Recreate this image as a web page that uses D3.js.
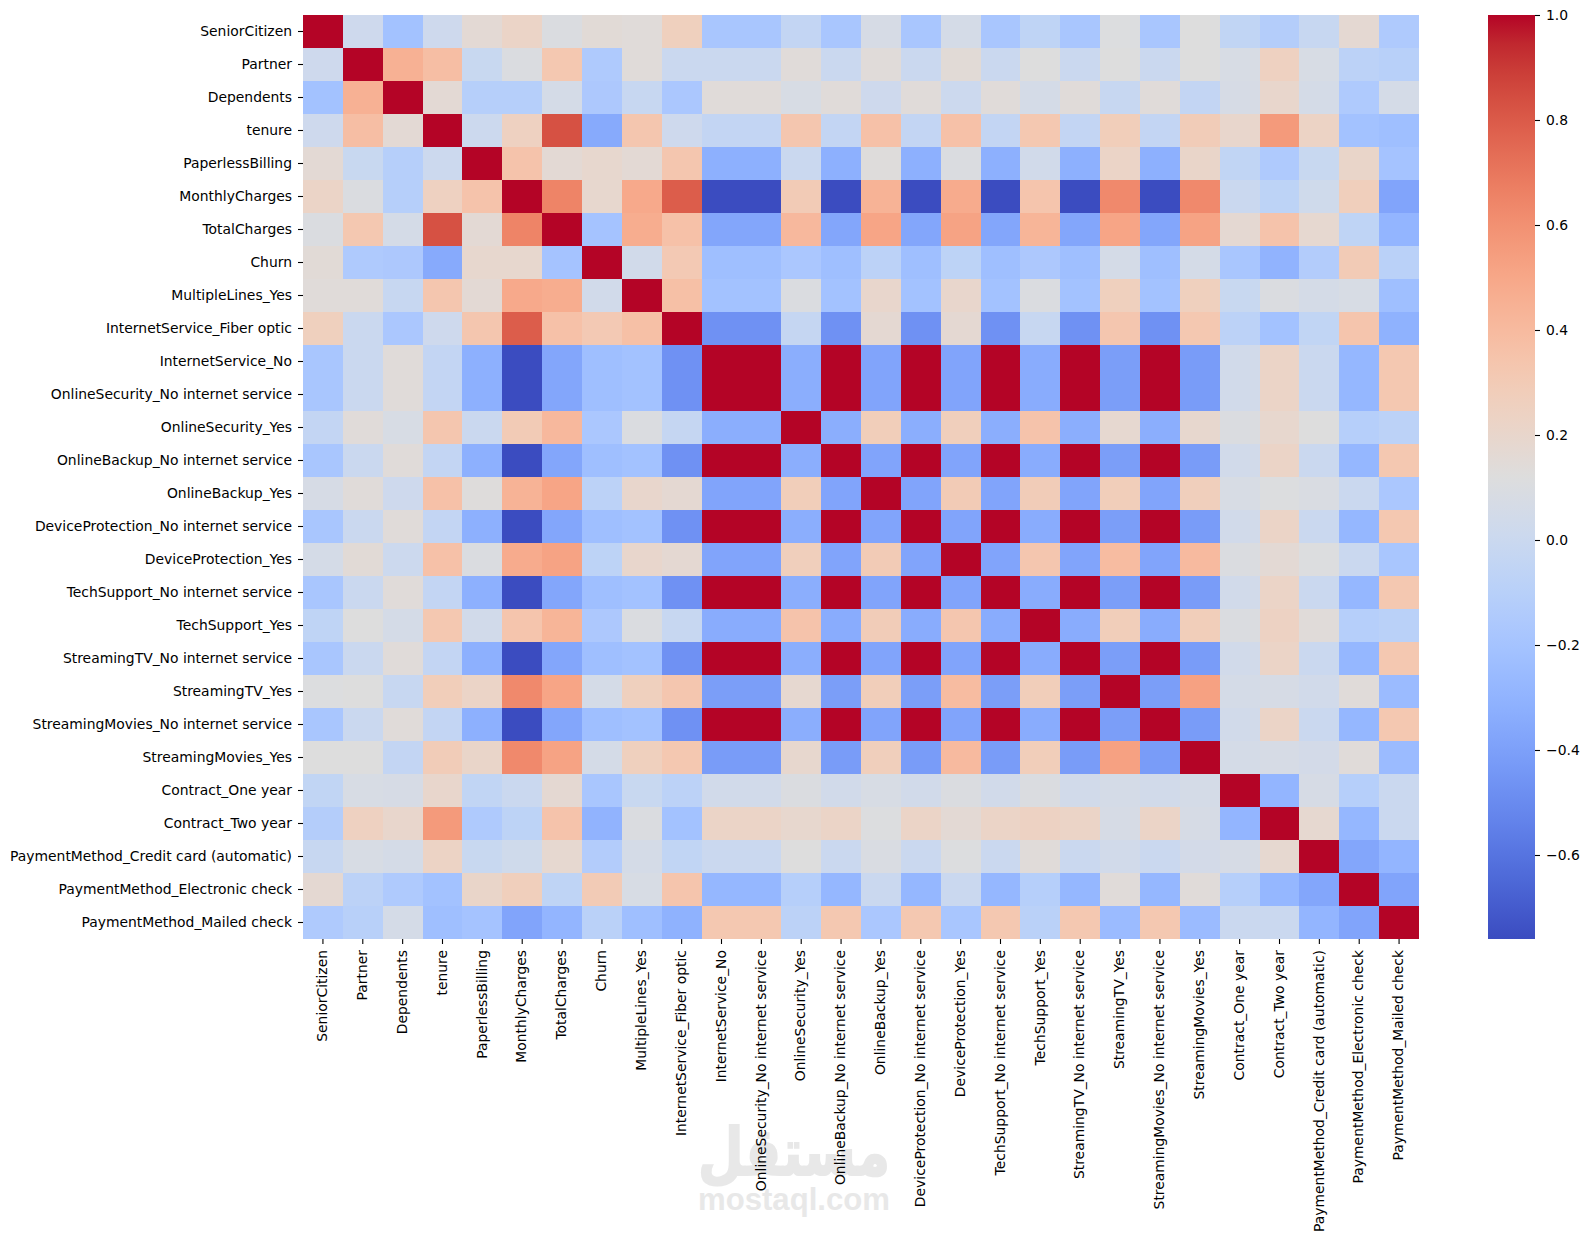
<!DOCTYPE html>
<html>
<head>
<meta charset="utf-8">
<title>Correlation heatmap</title>
<script src="https://cdn.jsdelivr.net/npm/d3@7"></script>
<style>
    body { margin: 0; background: #fff; }
    svg { display: block; }
    text { font-family: "DejaVu Sans", sans-serif; fill: #000; }
    .tick text { font-size: 13.9px; }
    .tick line { stroke: #000; stroke-width: 1.1; }
    .wm { fill: #e8e8e8; font-weight: bold; text-anchor: middle; }
</style>
</head>
<body>
<svg id="chart" width="1588" height="1242"></svg>
<script>
// Column / row names
const labels = [
    "SeniorCitizen", "Partner", "Dependents", "tenure", "PaperlessBilling", "MonthlyCharges", "TotalCharges",
    "Churn", "MultipleLines_Yes", "InternetService_Fiber optic", "InternetService_No",
    "OnlineSecurity_No internet service", "OnlineSecurity_Yes", "OnlineBackup_No internet service", "OnlineBackup_Yes",
    "DeviceProtection_No internet service", "DeviceProtection_Yes", "TechSupport_No internet service", "TechSupport_Yes",
    "StreamingTV_No internet service", "StreamingTV_Yes", "StreamingMovies_No internet service", "StreamingMovies_Yes",
    "Contract_One year", "Contract_Two year", "PaymentMethod_Credit card (automatic)",
    "PaymentMethod_Electronic check", "PaymentMethod_Mailed check"
];

// Correlation values, one row per label
const corrRows = [
    [1,.02,-.21,.02,.16,.22,.10,.15,.14,.26,-.18,-.18,-.04,-.18,.07,-.18,.06,-.18,-.06,-.18,.11,-.18,.12,-.05,-.12,-.02,.17,-.15],
    [.02,1,.45,.38,-.01,.10,.32,-.15,.14,0,0,0,.14,0,.14,0,.15,0,.12,0,.12,0,.12,.08,.25,.08,-.08,-.10],
    [-.21,.45,1,.16,-.11,-.11,.06,-.16,-.02,-.17,.14,.14,.08,.14,.02,.14,.01,.14,.06,.14,-.02,.14,-.04,.07,.20,.06,-.15,.06],
    [.02,.38,.16,1,.01,.25,.83,-.35,.33,.02,-.04,-.04,.33,-.04,.36,-.04,.36,-.04,.32,-.04,.28,-.04,.29,.20,.56,.23,-.21,-.23],
    [.16,-.01,-.11,.01,1,.35,.16,.19,.16,.33,-.32,-.32,0,-.32,.13,-.32,.10,-.32,.04,-.32,.22,-.32,.21,-.05,-.15,-.01,.21,-.20],
    [.22,.10,-.11,.25,.35,1,.65,.19,.49,.79,-.76,-.76,.30,-.76,.44,-.76,.48,-.76,.34,-.76,.63,-.76,.63,0,-.07,.03,.27,-.38],
    [.10,.32,.06,.83,.16,.65,1,-.20,.47,.36,-.37,-.37,.41,-.37,.51,-.37,.52,-.37,.43,-.37,.51,-.37,.52,.17,.35,.18,-.06,-.29],
    [.15,-.15,-.16,-.35,.19,.19,-.20,1,.04,.31,-.23,-.23,-.17,-.23,-.08,-.23,-.07,-.23,-.16,-.23,.06,-.23,.06,-.18,-.30,-.13,.30,-.09],
    [.14,.14,-.02,.33,.16,.49,.47,.04,1,.37,-.21,-.21,.10,-.21,.20,-.21,.20,-.21,.10,-.21,.26,-.21,.26,-.01,.10,.06,.08,-.23],
    [.26,0,-.17,.02,.33,.79,.36,.31,.37,1,-.47,-.47,-.03,-.47,.17,-.47,.17,-.47,-.02,-.47,.33,-.47,.32,-.08,-.21,-.05,.34,-.31],
    [-.18,0,.14,-.04,-.32,-.76,-.37,-.23,-.21,-.47,1,1,-.33,1,-.38,1,-.38,1,-.34,1,-.41,1,-.42,.04,.22,0,-.28,.32],
    [-.18,0,.14,-.04,-.32,-.76,-.37,-.23,-.21,-.47,1,1,-.33,1,-.38,1,-.38,1,-.34,1,-.41,1,-.42,.04,.22,0,-.28,.32],
    [-.04,.14,.08,.33,0,.30,.41,-.17,.10,-.03,-.33,-.33,1,-.33,.28,-.33,.27,-.33,.35,-.33,.18,-.33,.19,.10,.19,.12,-.11,-.08],
    [-.18,0,.14,-.04,-.32,-.76,-.37,-.23,-.21,-.47,1,1,-.33,1,-.38,1,-.38,1,-.34,1,-.41,1,-.42,.04,.22,0,-.28,.32],
    [.07,.14,.02,.36,.13,.44,.51,-.08,.20,.17,-.38,-.38,.28,-.38,1,-.38,.30,-.38,.29,-.38,.28,-.38,.27,.08,.11,.09,0,-.17],
    [-.18,0,.14,-.04,-.32,-.76,-.37,-.23,-.21,-.47,1,1,-.33,1,-.38,1,-.38,1,-.34,1,-.41,1,-.42,.04,.22,0,-.28,.32],
    [.06,.15,.01,.36,.10,.48,.52,-.07,.20,.17,-.38,-.38,.27,-.38,.30,-.38,1,-.38,.33,-.38,.39,-.38,.40,.10,.16,.11,0,-.18],
    [-.18,0,.14,-.04,-.32,-.76,-.37,-.23,-.21,-.47,1,1,-.33,1,-.38,1,-.38,1,-.34,1,-.41,1,-.42,.04,.22,0,-.28,.32],
    [-.06,.12,.06,.32,.04,.34,.43,-.16,.10,-.02,-.34,-.34,.35,-.34,.29,-.34,.33,-.34,1,-.34,.28,-.34,.28,.10,.24,.14,-.11,-.09],
    [-.18,0,.14,-.04,-.32,-.76,-.37,-.23,-.21,-.47,1,1,-.33,1,-.38,1,-.38,1,-.34,1,-.41,1,-.42,.04,.22,0,-.28,.32],
    [.11,.12,-.02,.28,.22,.63,.51,.06,.26,.33,-.41,-.41,.18,-.41,.28,-.41,.39,-.41,.28,-.41,1,-.41,.53,.06,.07,.04,.14,-.25],
    [-.18,0,.14,-.04,-.32,-.76,-.37,-.23,-.21,-.47,1,1,-.33,1,-.38,1,-.38,1,-.34,1,-.41,1,-.42,.04,.22,0,-.28,.32],
    [.12,.12,-.04,.29,.21,.63,.52,.06,.26,.32,-.42,-.42,.19,-.42,.27,-.42,.40,-.42,.28,-.42,.53,-.42,1,.06,.07,.05,.14,-.25],
    [-.05,.08,.07,.20,-.05,0,.17,-.18,-.01,-.08,.04,.04,.10,.04,.08,.04,.10,.04,.10,.04,.06,.04,.06,1,-.29,.07,-.11,0],
    [-.12,.25,.20,.56,-.15,-.07,.35,-.30,.10,-.21,.22,.22,.19,.22,.11,.22,.16,.22,.24,.22,.07,.22,.07,-.29,1,.18,-.28,0],
    [-.02,.08,.06,.23,-.01,.03,.18,-.13,.06,-.05,0,0,.12,0,.09,0,.11,0,.14,0,.04,0,.05,.07,.18,1,-.37,-.29],
    [.17,-.08,-.15,-.21,.21,.27,-.06,.30,.08,.34,-.28,-.28,-.11,-.28,0,-.28,0,-.28,-.11,-.28,.14,-.28,.14,-.11,-.28,-.37,1,-.38],
    [-.15,-.10,.06,-.23,-.20,-.38,-.29,-.09,-.23,-.31,.32,.32,-.08,.32,-.17,.32,-.18,.32,-.09,.32,-.25,.32,-.25,0,0,-.29,-.38,1]
];

const colorbarTicks = [-0.6, -0.4, -0.2, 0, 0.2, 0.4, 0.6, 0.8, 1];
const valueMin = -0.76;
const valueMax = 1;

// coolwarm colormap stops
const coolwarm = [
    [59,76,192],[68,90,204],[77,104,215],[87,117,225],[98,130,234],[108,142,241],[119,154,247],[130,165,251],
    [141,176,254],[152,185,255],[163,194,255],[174,201,253],[184,208,249],[194,213,244],[204,217,238],[213,219,230],
    [221,221,221],[229,216,209],[236,211,197],[241,205,185],[245,197,173],[247,187,160],[247,177,148],[247,166,135],
    [244,154,123],[241,141,111],[236,127,99],[229,112,88],[222,96,77],[213,80,66],[203,62,56],[192,40,47],[180,4,38]
].map(c => `rgb(${c[0]},${c[1]},${c[2]})`);

const color = d3.scaleLinear()
    .domain(coolwarm.map((c, i) => valueMin + (valueMax - valueMin) * i / (coolwarm.length - 1)))
    .range(coolwarm)
    .interpolate(d3.interpolateRgb);

const svg = d3.select('#chart');
const plot = { left: 303, right: 1419, top: 15, bottom: 939 };
const bar = { left: 1488, right: 1535 };

// Watermark goes under the labels
svg.append('text').attr('class', 'wm')
    .attr('x', 794).attr('y', 1175)
    .attr('textLength', 192)
    .attr('lengthAdjust', 'spacingAndGlyphs')
    .style('font-size', '66px')
    .style('stroke', '#e8e8e8')
    .style('stroke-width', 2)
    .text('مستقل');
svg.append('text').attr('class', 'wm')
    .attr('x', 794).attr('y', 1210)
    .attr('textLength', 192)
    .attr('lengthAdjust', 'spacingAndGlyphs')
    .style('font-family', '"Liberation Sans", sans-serif')
    .style('font-size', '31px')
    .text('mostaql.com');

const x = d3.scaleBand().domain(labels).range([plot.left, plot.right]);
const y = d3.scaleBand().domain(labels).range([plot.top, plot.bottom]);

// Heatmap cells
const cells = labels.flatMap((rowName, i) =>
    labels.map((colName, j) => ({ rowName, colName, value: corrRows[i][j] })));

svg.append('g')
    .attr('shape-rendering', 'crispEdges')
    .selectAll('rect')
    .data(cells)
    .enter()
    .append('rect')
    .attr('x', d => x(d.colName))
    .attr('y', d => y(d.rowName))
    .attr('width', x.bandwidth())
    .attr('height', y.bandwidth())
    .attr('fill', d => color(d.value));

// Axes
const yAxis = svg.append('g')
    .attr('transform', `translate(${plot.left},0)`)
    .call(d3.axisLeft(y).tickSize(5).tickPadding(6));
yAxis.select('.domain').remove();

const xAxis = svg.append('g')
    .attr('transform', `translate(0,${plot.bottom})`)
    .call(d3.axisBottom(x).tickSize(5).tickPadding(6));
xAxis.select('.domain').remove();
xAxis.selectAll('text')
    .attr('transform', 'rotate(-90)')
    .attr('x', -11)
    .attr('y', 0)
    .attr('dy', '0.3em')
    .style('text-anchor', 'end');

// Colorbar
const barScale = d3.scaleLinear().domain([valueMin, valueMax]).range([plot.bottom, plot.top]);

const gradient = svg.append('defs').append('linearGradient')
    .attr('id', 'cbar')
    .attr('x1', 0).attr('x2', 0).attr('y1', 1).attr('y2', 0);
gradient.selectAll('stop')
    .data(coolwarm)
    .enter()
    .append('stop')
    .attr('offset', (d, i) => i / (coolwarm.length - 1))
    .attr('stop-color', d => d);

svg.append('rect')
    .attr('x', bar.left)
    .attr('y', plot.top)
    .attr('width', bar.right - bar.left)
    .attr('height', plot.bottom - plot.top)
    .attr('fill', 'url(#cbar)');

const barAxis = svg.append('g')
    .attr('transform', `translate(${bar.right},0)`)
    .call(d3.axisRight(barScale).tickValues(colorbarTicks).tickFormat(d3.format('.1f')).tickSize(5).tickPadding(6));
barAxis.select('.domain').remove();
</script>
</body>
</html>
